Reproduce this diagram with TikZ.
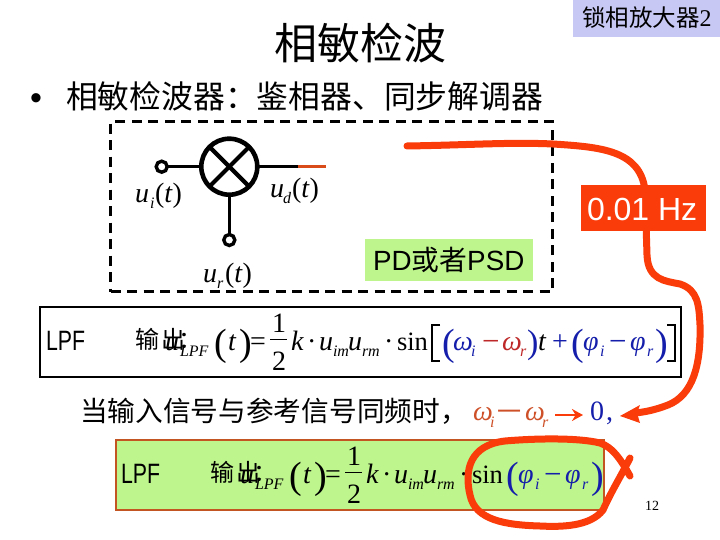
\documentclass[tikz,border=0pt]{standalone}
\usepackage{fontspec}
\setmainfont{Liberation Serif}
\newfontfamily\cjk{Noto Sans CJK SC}
\newfontfamily\tm{Liberation Serif}
\newfontfamily\hv{Liberation Sans}
\usetikzlibrary{arrows.meta}
\definecolor{inkred}{RGB}{250,60,10}
\definecolor{linegreen}{RGB}{190,245,140}
\definecolor{labelblue}{RGB}{200,200,245}
\definecolor{fblue}{RGB}{20,30,170}
\definecolor{fred}{RGB}{190,40,40}
\definecolor{forange}{RGB}{205,80,40}
\definecolor{boxbrown}{RGB}{195,85,35}
\newcommand{\fsz}[1]{\fontsize{#1}{#1}\selectfont}
\tikzset{
  x=1pt,y=-1pt,
  every node/.style={outer sep=0pt},
  txt/.style={inner sep=0pt,anchor=base west,font=\fsz{#1}\cjk},
  fm/.style={inner sep=0pt,anchor=base west,font=\fsz{28}\tm},
  fi/.style={inner sep=0pt,anchor=base west,font=\fsz{28}\tm\itshape},
  fs/.style={inner sep=0pt,anchor=base west,font=\fsz{16}\tm\itshape},
  par/.style={inner sep=0pt,anchor=base west,font=\fsz{38}\tm},
  wire/.style={line width=3.2pt,black},
  term/.style={circle,draw=black,fill=white,line width=3.4pt,minimum size=11pt,inner sep=0pt},
  stroke/.style={draw=inkred,line width=7pt,line cap=round,line join=round},
  brack/.style={line width=1.3pt,black},
}
% left part of the LPF formula, common to both boxes
\newcommand{\formulaleft}{%
  \node[inner sep=0pt,anchor=base west,font=\fsz{28}\hv] (lpf) at (46,350) {\scalebox{.76}[1]{LPF}};
  \node[txt=24] (out) at (135,348) {输};
  \node[txt=24] (outb) at (161,348) {出};
  \node[txt=24] (colon) at (178,348) {：};
  \node[fi] (u) at (165,350) {u};
  \node[fs] (sub) at (180,356) {LPF};
  \node[par] (p1) at (214,355) {(};
  \node[fi] (tt) at (228,350) {t};
  \node[par] (p2) at (239,355) {)};
  \node[fm] (eq) at (250,350) {=};
  \node[fm] (one) at (272,332) {1};
  \draw[line width=1.2pt] (270,339.5) -- (287,339.5);
  \node[fm] (two) at (272,370) {2};
  \node[fi] (k) at (291,350) {k};
  \node[fm] (dot) at (307,350) {·};
  \node[fi] (uim) at (319,350) {u};
  \node[fs] (im) at (333,356) {im};
  \node[fi] (urm) at (348,350) {u};
  \node[fs] (rm) at (362,356) {rm};
  \node[fm] (dotb) at (384,350) {·};
  \node[fm,font=\fsz{26.5}\tm] (sin) at (397,350) {sin};
}
\begin{document}
\begin{tikzpicture}
\useasboundingbox (0,0) rectangle (720,540);
% header
\node[fill=labelblue,inner sep=0pt,minimum width=147pt,minimum height=37pt,anchor=north west] (tag) at (573,0) {};
\node[txt=23.5] (tagtext) at (582,27) {锁相放大器\fsz{24}\tm 2};
\node[txt=43] (title) at (274,60) {相敏检波};
\node[inner sep=0pt,anchor=base west,font=\fsz{34}\hv] (bullet) at (30,110) {•};
\node[txt=31.8] (bul) at (66,109) {相敏检波器：鉴相器、同步解调器};
% dashed frame
\node[draw=black,line width=3pt,dash pattern=on 10pt off 6.5pt,inner sep=0pt,minimum width=442pt,minimum height=170pt,anchor=north west] (frame) at (110.7,121.7) {};
% phase detector
\node[circle,draw=black,line width=4.6pt,minimum size=56pt,inner sep=0pt] (mix) at (229.3,166.7) {};
\draw[line width=4.2pt] (mix.north west) -- (mix.south east);
\draw[line width=4.2pt] (mix.north east) -- (mix.south west);
\node[term] (ti) at (161.7,166.7) {};
\node[term] (tr) at (229.3,240) {};
\coordinate (mid) at (298,166.7);
\coordinate (oend) at (326,166.7);
\draw[wire] (ti) -- (mix);
\draw[wire] (mix) -- (tr);
\draw[wire] (mix) -- (mid);
\draw[line width=3.2pt,color=boxbrown!60!inkred] (mid) -- (oend);
\node[fi] (ui) at (135,203) {u};
\node[fs] (uis) at (150,208) {i};
\node[fm] (uit) at (155,203) {(\textit{t})};
\node[fi] (ud) at (270,198) {u};
\node[fs] (uds) at (283,204) {d};
\node[fm] (udt) at (292,198) {(\textit{t})};
\node[fi] (ur) at (203,282) {u};
\node[fs] (urs) at (217,288) {r};
\node[fm] (urt) at (225,282) {(\textit{t})};
\node[fill=linegreen,inner sep=0pt,minimum width=168pt,minimum height=42pt,anchor=north west] (pd) at (365,239) {};
\node[inner sep=0pt,anchor=base west,font=\fsz{27.8}\hv] (pdtext) at (373,270) {PD{\cjk 或者}PSD};
% first formula box
\node[draw=black,line width=2.6pt,fill=white,inner sep=0pt,minimum width=641pt,minimum height=70pt,anchor=north west] (box1) at (40,307) {};
\begin{scope}[name prefix=a-]
\formulaleft
\end{scope}
\coordinate (lba) at (440,325); \coordinate (lbb) at (432,325);
\coordinate (lbc) at (432,361); \coordinate (lbd) at (440,361);
\draw[brack] (lba) -- (lbb) -- (lbc) -- (lbd);
\node[par,text=fblue] (a1) at (442,355) {(};
\node[fi,text=fblue] (wi) at (453,350) {ω};
\node[fs,text=fblue] (wis) at (471,356) {i};
\node[fm,text=fred,font=\fsz{31}\tm] (mi) at (482,351) {−};
\node[fi,text=fred] (wr) at (502,350) {ω};
\node[fs,text=fred] (wrs) at (520,356) {r};
\node[par,text=fblue,font=\fsz{34}\tm] (a2) at (527,353) {)};
\node[fi] (tb) at (538,350) {t};
\node[fm,text=fblue] (pl) at (552,350) {+};
\node[par,text=fblue] (a3) at (571,355) {(};
\node[fi,text=fblue] (fi) at (583,350) {φ};
\node[fs,text=fblue] (fis) at (600,356) {i};
\node[fm,text=fblue,font=\fsz{31}\tm] (mf) at (609,351) {−};
\node[fi,text=fblue] (fr) at (630,350) {φ};
\node[fs,text=fblue] (frs) at (647,356) {r};
\node[par,text=fblue] (a4) at (655,355) {)};
\coordinate (rba) at (667,325); \coordinate (rbb) at (675,325);
\coordinate (rbc) at (675,361); \coordinate (rbd) at (667,361);
\draw[brack] (rba) -- (rbb) -- (rbc) -- (rbd);
% middle line
\node[txt=27.7] (mline) at (80,421) {当输入信号与参考信号同频时，};
\node[fi,text=forange] (mw) at (473,420) {ω};
\node[fs,text=forange] (mws) at (490,427) {i};
\node[fm,text=forange,font=\fsz{24}\cjk] (mdash) at (497,420) {一};
\node[fi,text=forange] (mr) at (525,420) {ω};
\node[fs,text=forange] (mrs) at (542,427) {r};
\coordinate (arra) at (555,415);
\coordinate (arrb) at (583,415);
\draw[line width=2.6pt,color=inkred,-{Stealth[length=11pt,width=12pt]}] (arra) -- (arrb);
\node[fm,text=fblue] (zero) at (590,420) {0};
\node[fm,text=fblue] (comma) at (606,420) {,};
% second formula box
\node[draw=boxbrown,line width=2.4pt,fill=linegreen,inner sep=0pt,minimum width=488pt,minimum height=70pt,anchor=north west] (box2) at (116,440) {};
\begin{scope}[shift={(75,133)},name prefix=b-]
\formulaleft
\node[par,text=fblue] (c1) at (431,355) {(};
\node[fi,text=fblue] (fi) at (443,350) {φ};
\node[fs,text=fblue] (fis) at (460,356) {i};
\node[fm,text=fblue,font=\fsz{31}\tm] (mf) at (469,351) {−};
\node[fi,text=fblue] (fr) at (490,350) {φ};
\node[fs,text=fblue] (frs) at (507,356) {r};
\node[par,text=fblue] (c2) at (516,355) {)};
\end{scope}
\node[inner sep=0pt,anchor=base west,font=\fsz{14}\tm] (page) at (645,510) {12};
% hand-drawn red marks
\coordinate (s0) at (407,146);
\coordinate (hz) at (645,190);
\coordinate (tip) at (620,416);
\draw[stroke] (s0) .. controls (470,145) and (510,142) .. (553,144)
  .. controls (600,147) and (640,150) .. (hz)
  -- (647,255) .. controls (648,280) and (665,281) .. (680,284)
  .. controls (698,290) and (699,305) .. (700,325)
  .. controls (701,365) and (693,395) .. (668,405)
  .. controls (655,410) and (645,412) .. (635,413);
\fill[inkred] (tip) -- (640,405) -- (637,413) -- (640,423) -- cycle;
\draw[stroke] (630,458) .. controls (620,478) and (612,490) .. (603,510)
  .. controls (590,527) and (560,527) .. (540,526)
  .. controls (505,525) and (475,520) .. (470,495)
  .. controls (464,470) and (470,445) .. (505,441)
  .. controls (540,438) and (580,438) .. (600,443)
  .. controls (612,447) and (620,458) .. (630,476);
\node[fill=inkred,inner sep=0pt,minimum width=125pt,minimum height=46pt,anchor=north west] (hzbox) at (581,185) {};
\node[inner sep=0pt,anchor=base west,font=\fsz{32}\hv,text=white] (hztext) at (587,221) {0.01 Hz};
\end{tikzpicture}
\end{document}
